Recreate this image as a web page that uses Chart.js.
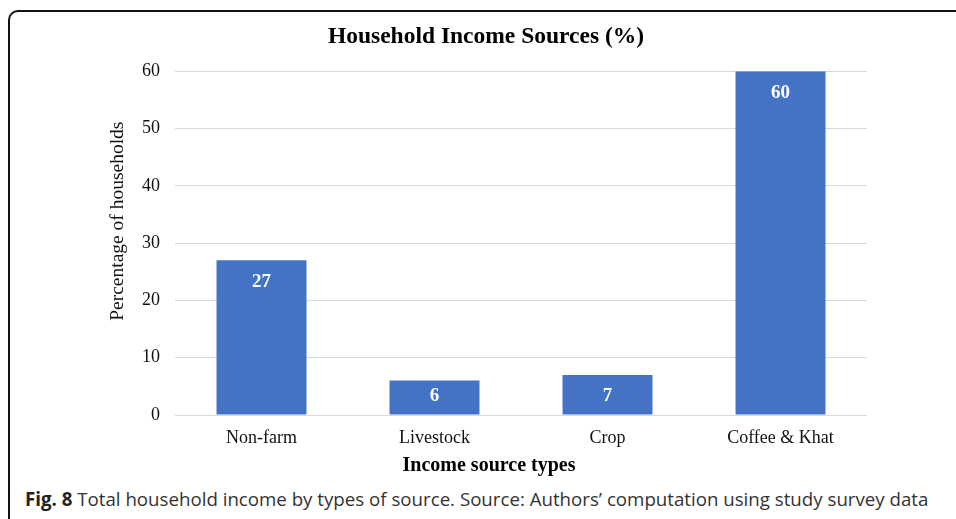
<!DOCTYPE html>
<html>
<head>
<meta charset="utf-8">
<script src="https://cdn.jsdelivr.net/npm/chart.js@4.4.1/dist/chart.umd.min.js"></script>
<style>
  html, body { margin: 0; padding: 0; background: #fff; }
  body { width: 956px; height: 519px; position: relative; overflow: hidden; }
  #frame {
    position: absolute; left: 8px; top: 10px; width: 960px; height: 520px;
    border-left: 2px solid #111; border-top: 2px solid #111;
    border-top-left-radius: 10px;
  }
  #wrap { position: absolute; left: 0; top: 0; width: 956px; height: 482px; }
  #caption {
    position: absolute; left: 25px; top: 486px; white-space: nowrap;
    font-family: 'Open Sans', 'Noto Sans', sans-serif; font-size: 18.7px; color: #333;
  }
  #caption b { color: #222; }
</style>
</head>
<body>
<div id="frame"></div>
<div id="wrap"><canvas id="incomeChart"></canvas></div>
<div id="caption"><b>Fig. 8</b> Total household income by types of source. Source: Authors’ computation using study survey data</div>

<script>
// datos del gráfico
const categorias = ['Non-farm', 'Livestock', 'Crop', 'Coffee & Khat'];
const porcentajes = [27, 6, 7, 60];
const ticksY = [0, 10, 20, 30, 40, 50, 60];
const tituloX = 'Income source types';
const tituloY = 'Percentage of households';

const serif = "'Liberation Serif', 'Times New Roman', serif";

// etiquetas blancas dentro de la barra + títulos de ejes (desplazados como en Excel)
const etiquetasBarras = {
    id: 'etiquetasBarras',
    afterDatasetsDraw(chart) {
        const ctx = chart.ctx;
        const area = chart.chartArea;
        const meta = chart.getDatasetMeta(0);
        ctx.save();
        ctx.fillStyle = '#fff';
        ctx.font = 'bold 19px ' + serif;
        ctx.textAlign = 'center';
        ctx.textBaseline = 'middle';
        meta.data.forEach((bar, i) => {
            const y = Math.min(bar.y + 22, bar.base - 18);
            ctx.fillText(String(porcentajes[i]), bar.x, y);
        });

        // título eje X
        ctx.fillStyle = '#000';
        ctx.font = 'bold 20px ' + serif;
        ctx.fillText(tituloX, area.left + 314, area.bottom + 51);

        // título eje Y (rotado)
        ctx.fillStyle = '#111';
        ctx.font = '19.5px ' + serif;
        ctx.translate(area.left - 57, area.top + 150);
        ctx.rotate(-Math.PI / 2);
        ctx.fillText(tituloY, 0, 0);
        ctx.restore();
    }
};

new Chart(document.getElementById('incomeChart').getContext('2d'), {
    type: 'bar',
    data: {
        labels: categorias,
        datasets: [{
            data: porcentajes,
            backgroundColor: '#4472C4',
            borderWidth: 0,
            categoryPercentage: 1,
            barPercentage: 0.52
        }]
    },
    options: {
        responsive: true,
        maintainAspectRatio: false,
        animation: false,
        devicePixelRatio: 1,
        layout: { padding: { left: 105, right: 89, top: 10, bottom: 0 } },
        plugins: {
            legend: { display: false },
            tooltip: { enabled: false },
            title: {
                display: true,
                text: 'Household Income Sources (%)',
                color: '#000',
                font: { family: serif, size: 23.5, weight: 'bold' },
                padding: { top: 13, bottom: 20 }
            }
        },
        scales: {
            x: {
                afterFit: (scale) => { scale.height = 67; },
                grid: { display: false, drawTicks: false },
                border: { display: false },
                ticks: { color: '#111', padding: 12, font: { family: serif, size: 18 } }
            },
            y: {
                min: 0,
                max: 60,
                afterFit: (scale) => { scale.width = 70; },
                afterBuildTicks: (scale) => { scale.ticks = ticksY.map(v => ({ value: v })); },
                grid: { color: '#d9d9d9', lineWidth: 1, drawTicks: false },
                border: { display: false },
                ticks: { color: '#111', padding: 15, font: { family: serif, size: 18 } }
            }
        }
    },
    plugins: [etiquetasBarras]
});
</script>
</body>
</html>
